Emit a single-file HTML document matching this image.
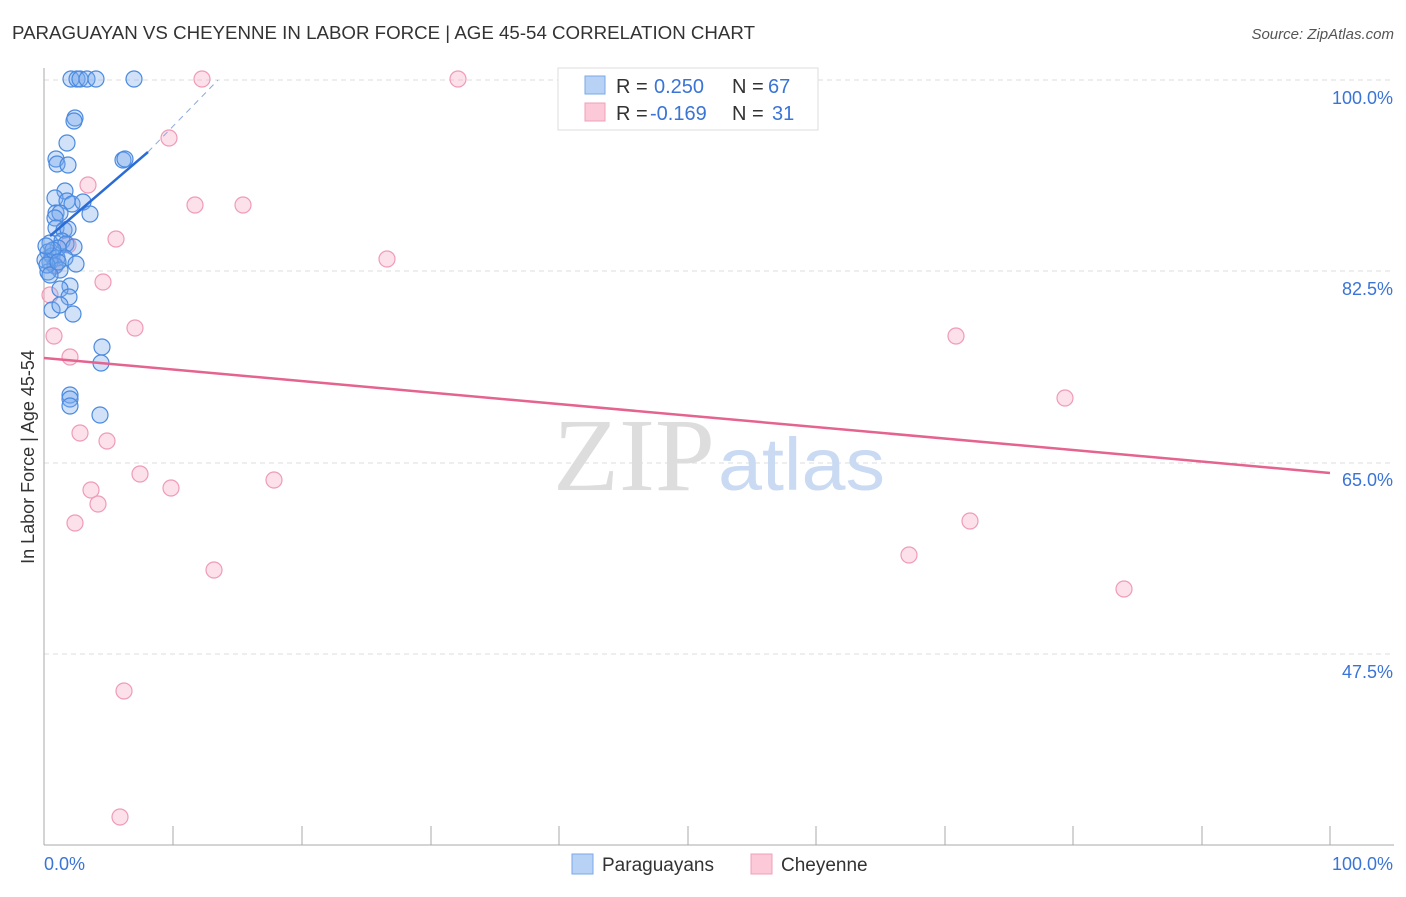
<!DOCTYPE html>
<html><head><meta charset="utf-8"><style>
body{margin:0;background:#fff;width:1406px;height:892px;overflow:hidden;font-family:"Liberation Sans",sans-serif}
</style></head><body>
<svg width="1406" height="892" xmlns="http://www.w3.org/2000/svg" font-family="Liberation Sans, sans-serif">
<text x="12" y="39" font-size="18" fill="#333" textLength="743" lengthAdjust="spacingAndGlyphs">PARAGUAYAN VS CHEYENNE IN LABOR FORCE | AGE 45-54 CORRELATION CHART</text>
<text x="1394" y="39" font-size="15" fill="#555" font-style="italic" text-anchor="end">Source: ZipAtlas.com</text>
<g stroke="#ddd" stroke-dasharray="5,4" stroke-width="1">
<line x1="44" y1="80" x2="1394" y2="80"/><line x1="44" y1="271" x2="1394" y2="271"/><line x1="44" y1="463" x2="1394" y2="463"/><line x1="44" y1="654" x2="1394" y2="654"/>
</g>
<line x1="44" y1="68" x2="44" y2="845" stroke="#aaa"/>
<line x1="44" y1="845" x2="1394" y2="845" stroke="#aaa"/>
<g stroke="#aaa">
<line x1="173" y1="826" x2="173" y2="845"/><line x1="302" y1="826" x2="302" y2="845"/><line x1="431" y1="826" x2="431" y2="845"/><line x1="559" y1="826" x2="559" y2="845"/><line x1="688" y1="826" x2="688" y2="845"/><line x1="816" y1="826" x2="816" y2="845"/><line x1="945" y1="826" x2="945" y2="845"/><line x1="1073" y1="826" x2="1073" y2="845"/><line x1="1202" y1="826" x2="1202" y2="845"/><line x1="1330" y1="826" x2="1330" y2="845"/>
</g>
<g font-size="18" fill="#3a74d6" text-anchor="end">
<text x="1393" y="104">100.0%</text><text x="1393" y="295">82.5%</text><text x="1393" y="486">65.0%</text><text x="1393" y="678">47.5%</text>
</g>
<text x="44" y="870" font-size="18" fill="#3a74d6">0.0%</text>
<text x="1393" y="870" font-size="18" fill="#3a74d6" text-anchor="end">100.0%</text>
<text transform="translate(34,457) rotate(-90)" font-size="18" fill="#333" text-anchor="middle">In Labor Force | Age 45-54</text>
<text x="553" y="490" font-size="104" fill="#ddd" font-family="Liberation Serif, serif" textLength="162" lengthAdjust="spacingAndGlyphs">ZIP</text>
<text x="718" y="490" font-size="74" fill="#c9daf2" textLength="167" lengthAdjust="spacingAndGlyphs">atlas</text>
<g fill="rgba(246,170,195,0.35)" stroke="#ef9bb6" stroke-width="1.2">
<circle cx="202" cy="79" r="8"/><circle cx="458" cy="79" r="8"/><circle cx="169" cy="138" r="8"/><circle cx="88" cy="185" r="8"/><circle cx="195" cy="205" r="8"/><circle cx="243" cy="205" r="8"/><circle cx="116" cy="239" r="8"/><circle cx="68" cy="245" r="8"/><circle cx="387" cy="259" r="8"/><circle cx="103" cy="282" r="8"/><circle cx="50" cy="295" r="8"/><circle cx="135" cy="328" r="8"/><circle cx="54" cy="336" r="8"/><circle cx="956" cy="336" r="8"/><circle cx="70" cy="357" r="8"/><circle cx="1065" cy="398" r="8"/><circle cx="80" cy="433" r="8"/><circle cx="107" cy="441" r="8"/><circle cx="140" cy="474" r="8"/><circle cx="91" cy="490" r="8"/><circle cx="171" cy="488" r="8"/><circle cx="98" cy="504" r="8"/><circle cx="274" cy="480" r="8"/><circle cx="75" cy="523" r="8"/><circle cx="970" cy="521" r="8"/><circle cx="214" cy="570" r="8"/><circle cx="909" cy="555" r="8"/><circle cx="1124" cy="589" r="8"/><circle cx="124" cy="691" r="8"/><circle cx="120" cy="817" r="8"/><circle cx="55" cy="265" r="8"/>
</g>
<g fill="rgba(120,170,235,0.35)" stroke="#4a8ae0" stroke-width="1.2">
<circle cx="71" cy="79" r="8"/><circle cx="77" cy="79" r="8"/><circle cx="80" cy="79" r="8"/><circle cx="87" cy="79" r="8"/><circle cx="96" cy="79" r="8"/><circle cx="134" cy="79" r="8"/><circle cx="75" cy="118" r="8"/><circle cx="74" cy="121" r="8"/><circle cx="67" cy="143" r="8"/><circle cx="56" cy="159" r="8"/><circle cx="57" cy="164" r="8"/><circle cx="68" cy="165" r="8"/><circle cx="123" cy="160" r="8"/><circle cx="125" cy="159" r="8"/><circle cx="65" cy="191" r="8"/><circle cx="55" cy="198" r="8"/><circle cx="67" cy="201" r="8"/><circle cx="72" cy="204" r="8"/><circle cx="83" cy="202" r="8"/><circle cx="56" cy="213" r="8"/><circle cx="60" cy="213" r="8"/><circle cx="90" cy="214" r="8"/><circle cx="55" cy="218" r="8"/><circle cx="56" cy="228" r="8"/><circle cx="64" cy="230" r="8"/><circle cx="68" cy="229" r="8"/><circle cx="50" cy="243" r="8"/><circle cx="62" cy="241" r="8"/><circle cx="66" cy="244" r="8"/><circle cx="74" cy="247" r="8"/><circle cx="58" cy="248" r="8"/><circle cx="48" cy="252" r="8"/><circle cx="52" cy="256" r="8"/><circle cx="57" cy="258" r="8"/><circle cx="65" cy="258" r="8"/><circle cx="50" cy="262" r="8"/><circle cx="76" cy="264" r="8"/><circle cx="55" cy="266" r="8"/><circle cx="60" cy="270" r="8"/><circle cx="48" cy="272" r="8"/><circle cx="70" cy="286" r="8"/><circle cx="60" cy="289" r="8"/><circle cx="69" cy="297" r="8"/><circle cx="52" cy="310" r="8"/><circle cx="60" cy="305" r="8"/><circle cx="73" cy="314" r="8"/><circle cx="102" cy="347" r="8"/><circle cx="101" cy="363" r="8"/><circle cx="70" cy="395" r="8"/><circle cx="70" cy="399" r="8"/><circle cx="70" cy="406" r="8"/><circle cx="100" cy="415" r="8"/><circle cx="45" cy="260" r="8"/><circle cx="47" cy="265" r="8"/><circle cx="50" cy="275" r="8"/><circle cx="53" cy="250" r="8"/><circle cx="46" cy="246" r="8"/><circle cx="58" cy="262" r="8"/>
</g>
<line x1="44" y1="358" x2="1330" y2="473" stroke="#e5638f" stroke-width="2.5"/>
<line x1="50" y1="236" x2="148" y2="152" stroke="#2a6bd6" stroke-width="2.5"/>
<line x1="148" y1="152" x2="218" y2="80" stroke="#8aa8dd" stroke-width="1" stroke-dasharray="6,5"/>
<rect x="558" y="68" width="260" height="62" fill="#fff" stroke="#ddd"/>
<rect x="585" y="76" width="20" height="18" fill="#b8d2f5" stroke="#7aa8e8"/>
<rect x="585" y="103" width="20" height="18" fill="#fbc9d8" stroke="#f0a0b8"/>
<g font-size="20">
<text x="616" y="93" fill="#333">R = </text><text x="654" y="93" fill="#3a74d6">0.250</text><text x="732" y="93" fill="#333">N = </text><text x="768" y="93" fill="#3a74d6">67</text>
<text x="616" y="120" fill="#333">R = </text><text x="650" y="120" fill="#3a74d6">-0.169</text><text x="732" y="120" fill="#333">N = </text><text x="772" y="120" fill="#3a74d6">31</text>
</g>
<rect x="572" y="854" width="21" height="20" fill="#b8d2f5" stroke="#7aa8e8"/>
<text x="602" y="871" font-size="19" fill="#333">Paraguayans</text>
<rect x="751" y="854" width="21" height="20" fill="#fbc9d8" stroke="#f0a0b8"/>
<text x="781" y="871" font-size="19" fill="#333">Cheyenne</text>
</svg>
</body></html>
